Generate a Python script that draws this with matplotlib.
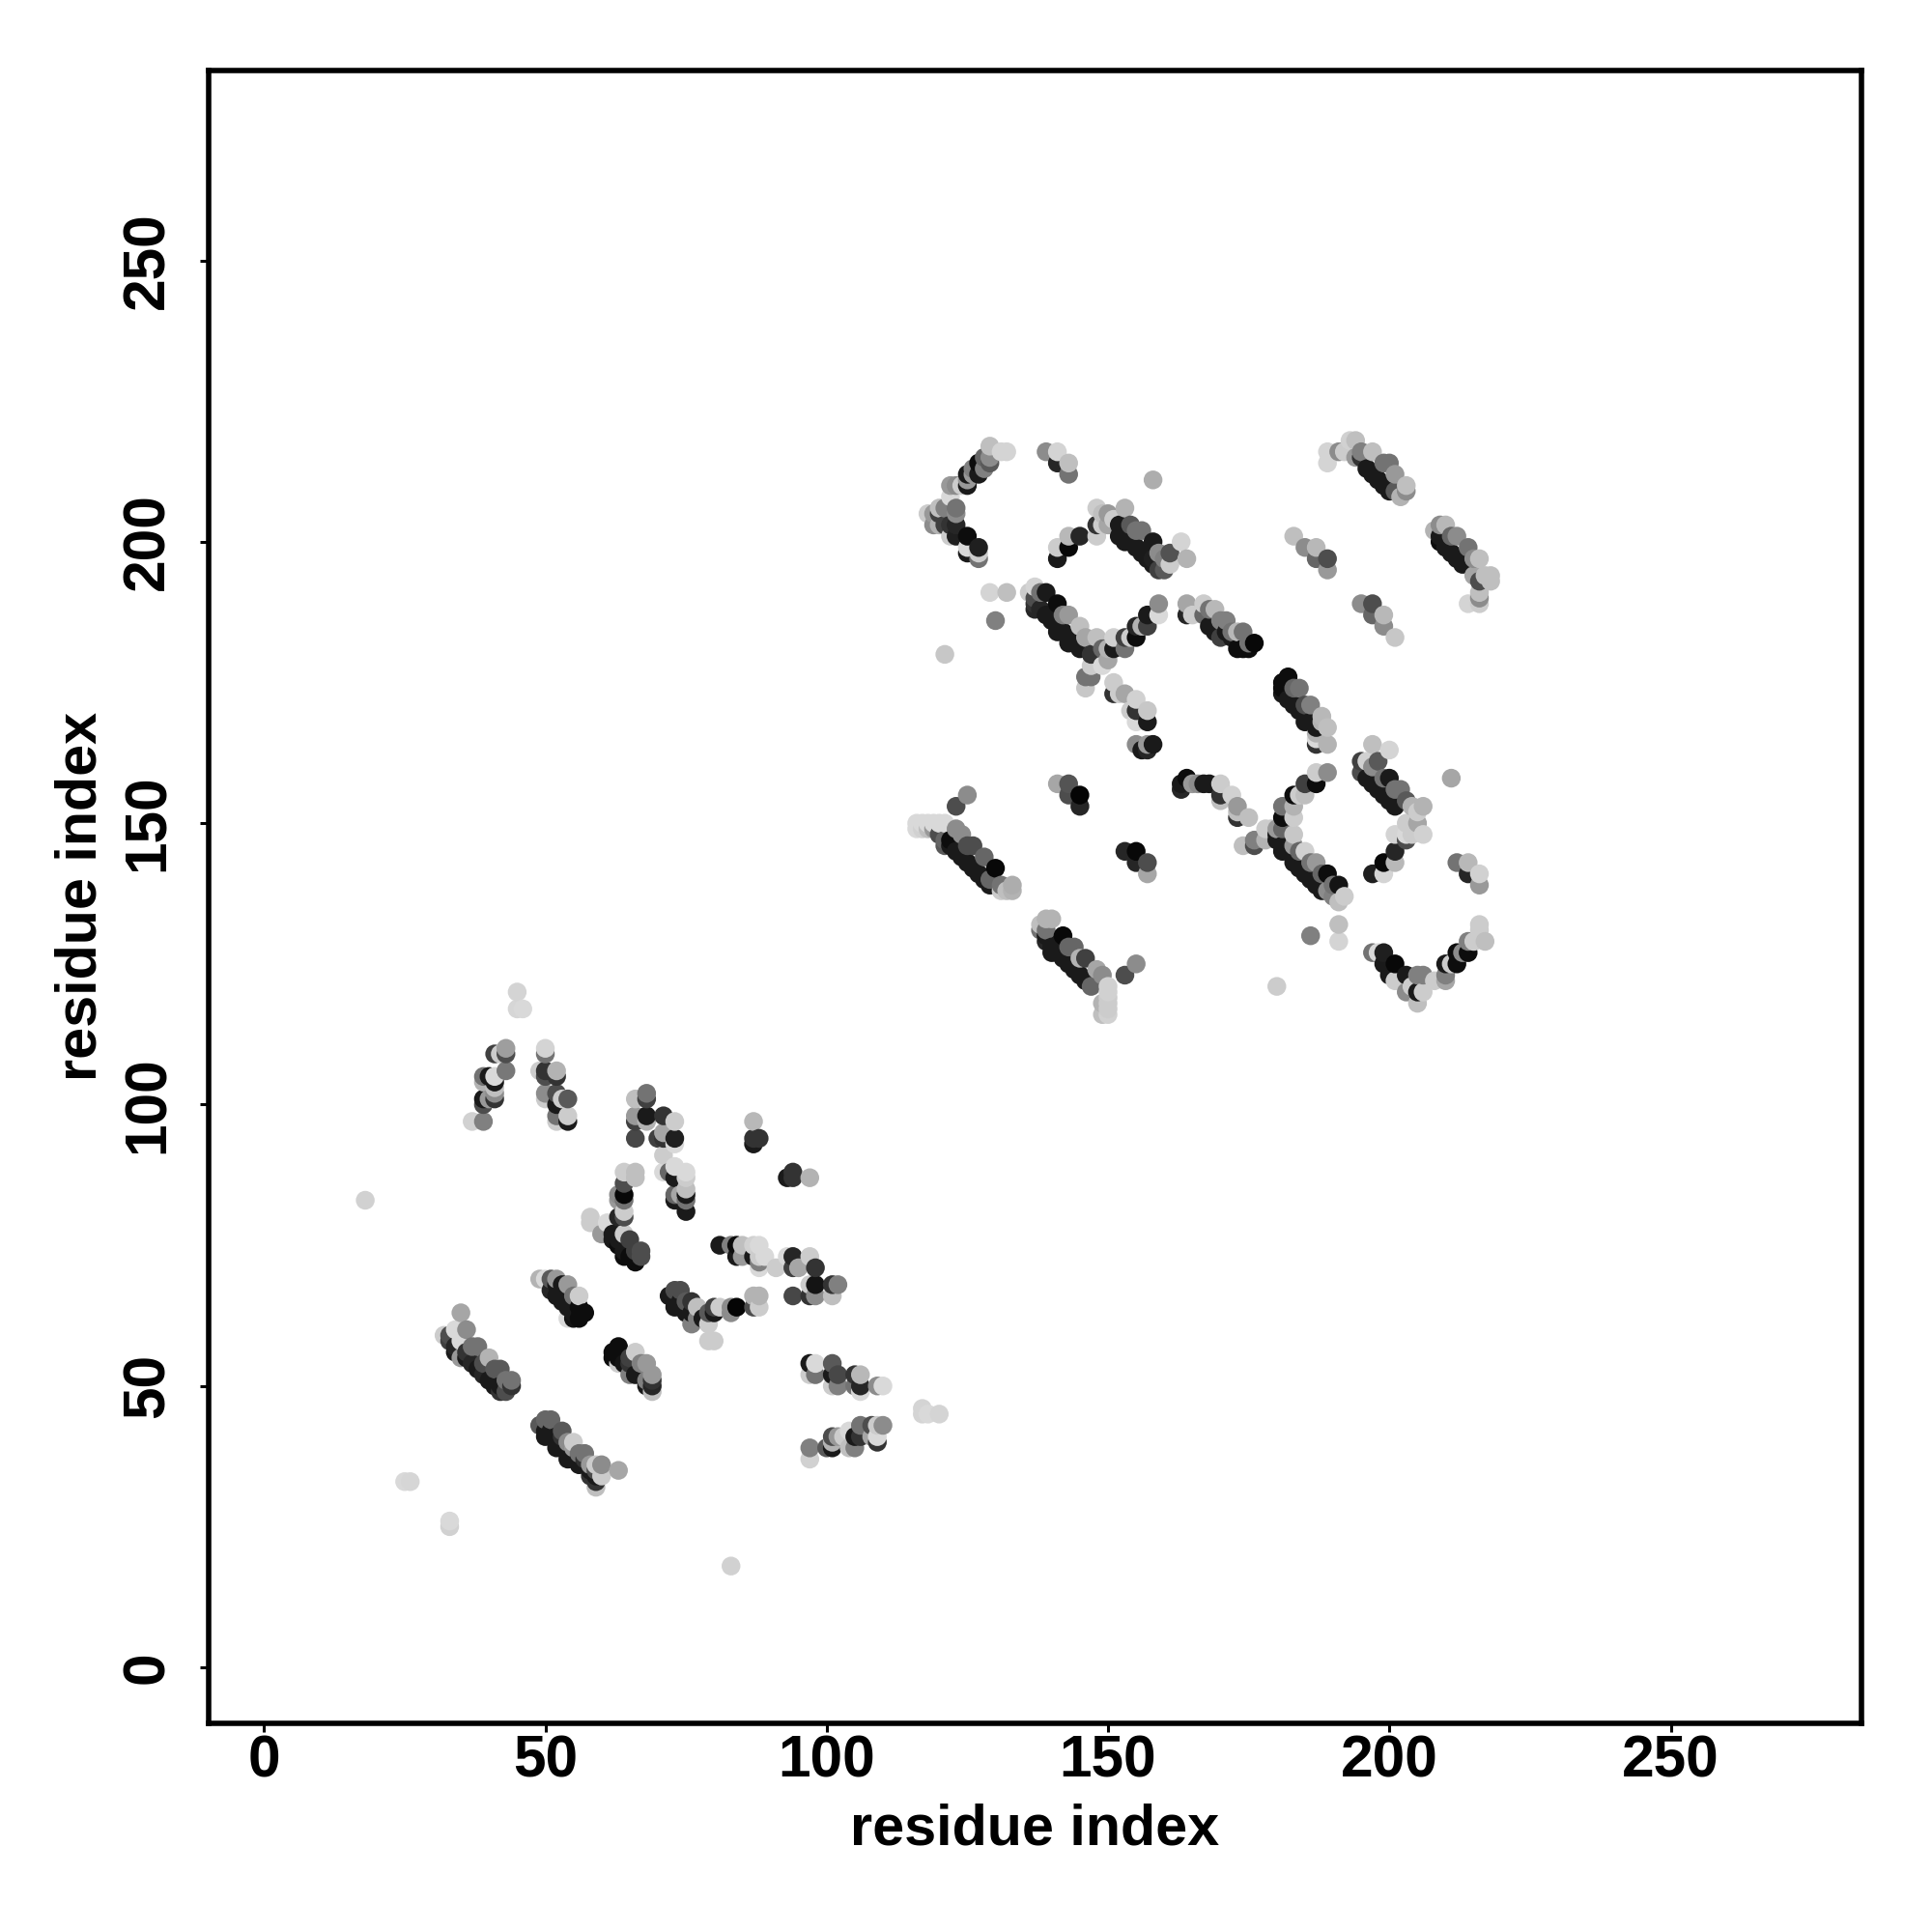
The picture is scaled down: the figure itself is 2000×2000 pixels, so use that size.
import numpy as np
import matplotlib
matplotlib.use('Agg')
import matplotlib.pyplot as plt

plt.rcParams['font.family'] = ['Liberation Sans', 'DejaVu Sans']
plt.rcParams['font.weight'] = 'bold'

# (residue i, residue j, grey level), one list per contact patch
arch_left = [(18,83,.82),(45,120,.83),(45,117,.84),(46,117,.85),(43,110,.62),(43,109,.3),(42,109,.8),(41,109,.25),
    (43,106,.47),(41,105,.85),(41,104,.1),(40,105,.1),(39,105,.45),(39,104,.7),(41,103,.75),(41,102,.55),(41,101,.2),
    (39,101,.1),(40,101,.6),(39,100,.3),(39,97,.5),(37,97,.82)]
arch_right = [(50,110,.83),(50,109,.45),(49,106,.8),(50,106,.2),(50,105,.3),(52,106,.7),(52,105,.2),(50,102,.55),
    (50,101,.8),(52,102,.3),(52,100,.1),(53,101,.8),(54,101,.35),(52,98,.45),(52,97,.8),(54,98,.8),(54,97,.1)]
patch_66 = [(66,101,.75),(68,102,.45),(68,101,.25),(66,98,.6),(66,97,.25),(68,98,.1),(68,97,.7),(66,94,.28),(71,98,.2),
    (73,97,.8),(71,95,.65),(71,94,.2),(70,94,.25),(73,94,.12),(73,93,.85),(71,91,.8),(71,88,.85),(73,89,.85),(72,88,.4),
    (73,87,.1),(75,88,.85),(75,87,.8),(73,84,.4),(73,83,.1),(75,85,.75),(75,84,.1),(75,83,.45),(74,84,.65),(75,81,.1)]
patch_87 = [(87,97,.72),(87,94,.2),(88,94,.2),(87,93,.1),(93,87,.1),(94,88,.2),(94,87,.2),(97,87,.7)]
row_75 = [(81,75,.1),(83,75,.5),(84,75,.05),(85,75,.75),(87,75,.82),(88,75,.85),(84,73,.1),(85,73,.6),(87,73,.1),
    (88,73,.8),(89,73,.85),(88,72,.5),(88,71,.85),(91,71,.8),(93,73,.85),(94,73,.15),(97,73,.8),(94,71,.25),(95,71,.65),
    (98,71,.2),(97,68,.8),(98,68,.08),(101,68,.2),(102,68,.5),(94,66,.28),(97,66,.2),(98,66,.55),(101,66,.75)]
row_65 = [(72,66,.1),(73,67,.3),(74,67,.3),(73,65,.1),(74,65,.1),(73,64,.1),(74,64,.1),(75,65,.35),(76,65,.2),(75,63,.1),(76,63,.1),
    (77,64,.75),(76,61,.5),(77,62,.5),(78,62,.1),(79,63,.35),(79,61,.8),(80,64,.25),(80,63,.1),(81,64,.8),(79,58,.8),(80,58,.8),
    (83,64,.55),(83,63,.55),(84,64,.02),(87,66,.7),(88,66,.7),(87,64,.3),(88,64,.8)]
band_33 = [(35,63,.65),(32,59,.8),(33,59,.3),(34,60,.85),(36,60,.55),(35,58,.85),(33,58,.25),(34,57,.15),(34,56,.1),(37,57,.45),
    (38,57,.45),(36,56,.2),(35,55,.6),(36,55,.1),(40,55,.7),(37,54,.15),(39,54,.3),(38,53,.1),(41,53,.35),(42,53,.35),(39,52,.15),
    (40,51,.1),(43,51,.45),(44,51,.45),(41,50,.1),(42,50,.1),(42,49,.2),(43,49,.3),(44,50,.2)]
band_50 = [(49,43,.35),(50,44,.4),(51,44,.4),(50,42,.1),(50,41,.1),(51,42,.1),(51,41,.1),(52,41,.1),(53,41,.2),(53,42,.35),(52,40,.1),(53,40,.1),(54,40,.55),(55,40,.8),
    (52,39,.1),(53,39,.1),(54,39,.1),(55,39,.6),(54,38,.1),(54,37,.1),(55,38,.1),(56,38,.45),(57,38,.45),(55,37,.1),(56,37,.1),(57,37,.2),(56,36,.1),(57,36,.1),(58,35,.1),(58,36,.6),(59,36,.8),(60,36,.55),
    (63,35,.65),(59,35,.3),(60,34,.8),(58,34,.2),(59,34,.1),(59,33,.2),(59,32,.75),(25,33,.85),(26,33,.84),(33,26,.85),(33,25,.82)]
band_49 = [(49,69,.7),(50,69,.85),(51,69,.35),(52,69,.6),(51,67,.15),(52,68,.1),(53,68,.1),(54,68,.6),(55,66,.45),(56,66,.8),(52,66,.1),
    (53,65,.1),(54,64,.1),(55,64,.1),(56,64,.05),(57,63,.05),(55,62,.08),(56,62,.05),(54,62,.85),(55,63,.1)]
band_63 = [(62,56,.05),(63,57,.05),(62,55,.05),(63,55,.05),(64,54,.08),(65,55,.25),(66,56,.8),(67,54,.5),(68,54,.6),(69,52,.6),(69,51,.2),(69,50,.15),
    (69,49,.75),(65,54,.2),(63,54,.8),(66,52,.1),(67,52,.1),(65,52,.5),(68,50,.1),(68,51,.5)]
patch_64 = [(64,88,.8),(66,88,.75),(66,87,.75),(64,86,.3),(63,84,.55),(63,83,.6),(64,84,.03),(64,83,.45),(64,81,.8),(63,80,.15),(64,80,.3),
    (61,79,.85),(60,77,.6),(62,77,.1),(64,77,.8),(65,76,.25),(63,75,.05),(63,76,.1),(64,74,.1),(66,74,.25),(67,74,.3),(64,73,.05),(66,72,.05),(67,73,.3),
    (65,73,.05),(62,76,.1),(58,79,.8),(58,80,.8),(61,77,.6)]
row_52 = [(97,54,.1),(98,54,.85),(97,52,.8),(98,52,.45),(101,54,.35),(102,52,.28),(101,52,.1),(101,50,.8),(102,50,.5),(105,52,.2),(106,52,.72),
    (105,50,.45),(106,50,.15),(106,49,.85),(109,50,.55),(110,50,.85)]
row_41 = [(97,39,.5),(97,37,.82),(100,39,.35),(101,39,.1),(101,41,.3),(102,41,.6),(101,40,.7),(103,41,.8),(104,42,.85),(105,39,.5),(104,39,.75),
    (105,41,.1),(106,43,.45),(106,41,.2),(108,43,.3),(108,41,.65),(109,43,.8),(110,43,.55),(109,40,.2),(109,41,.85),(117,46,.83),(117,45,.83),(118,45,.85),(120,45,.83),(83,18,.82)]

hook_125 = [(129,217,.75),(131,216,.83),(132,216,.83),(129,215,.55),(129,214,.35),(128,215,.4),(127,214,.05),(128,213,.5),(126,213,.5),(127,212,.1),
    (125,212,.1),(126,212,.6),(125,210,.1),(125,211,.6),(124,210,.8),(123,210,.55),(122,210,.6),(122,208,.85),(123,206,.45),(123,205,.55),(121,206,.5),
    (120,206,.75),(118,205,.8),(119,205,.6),(120,205,.25),(119,203,.55),(120,203,.7),(121,203,.25),(122,203,.2),(123,203,.15),(122,201,.8),(123,201,.12),
    (125,201,.05),(125,199,.85),(125,198,.1),(127,199,.12),(127,198,.8),(127,197,.45)]
patch_139 = [(139,216,.55),(141,216,.83),(143,214,.75),(141,214,.15),(143,212,.45),(158,211,.68),(141,199,.8),(143,201,.72),(145,201,.15),(143,199,.03),(141,197,.1)]
band_148 = [(148,206,.8),(150,205,.6),(149,205,.75),(153,206,.7),(148,203,.2),(149,203,.8),(150,203,.65),(151,204,.8),(148,201,.8),(152,203,.1),
    (153,202,.1),(154,203,.35),(152,201,.1),(155,202,.45),(156,202,.45),(153,200,.1),(154,200,.1),(155,199,.1),(156,198,.1),(158,200,.1),(159,198,.55),(157,197,.1),
    (161,198,.32),(161,196,.8),(163,200,.83),(164,197,.7),(159,195,.25),(160,195,.35),(158,197,.12),(158,196,.1),(160,197,.5)]
band_137 = [(129,191,.83),(132,191,.75),(130,186,.5),(121,180,.78),(137,192,.83),(136,191,.8),(138,191,.45),(139,191,.1),(137,190,.3),(137,189,.2),(137,188,.15),
    (138,188,.15),(141,189,.05),(139,187,.1),(140,186,.1),(143,187,.6),(142,187,.5),(141,185,.1),(145,185,.75),(141,184,.1),(142,184,.1),(143,183,.1),(146,183,.65),(148,183,.75),
    (143,182,.1),(144,182,.1),(145,181,.1),(147,180,.2),(149,181,.4),(151,183,.82),(150,181,.7),(151,181,.1),(153,183,.25),(154,183,.8),(155,185,.15),(157,185,.25),
    (155,183,.05),(156,185,.7),(157,187,.1),(159,189,.55),(159,187,.85),(153,181,.45),(150,179,.65),(149,178,.85),(147,178,.8),(146,176,.45),(147,176,.45),(146,174,.78)]
patch_151 = [(151,175,.8),(151,173,.2),(153,173,.65),(152,173,.8),(155,172,.82),(154,170,.8),(155,170,.2),(157,170,.78),(157,168,.1),(155,168,.85),
    (157,164,.6),(158,164,.1),(156,163,.1),(157,163,.15),(155,164,.55)]
band_164 = [(164,189,.65),(164,187,.15),(165,187,.8),(167,189,.8),(167,187,.4),(168,188,.45),(168,185,.1),(169,188,.72),(170,186,.5),(171,186,.5),(170,183,.25),
    (169,184,.1),(171,184,.1),(172,183,.1),(173,184,.72),(174,184,.45),(172,184,.45),(173,181,.05),(174,181,.05),(175,181,.05),(176,182,.03),(175,182,.45)]
band_top = [(189,216,.83),(189,214,.83),(191,216,.55),(192,216,.8),(193,218,.82),(194,218,.75),(194,215,.6),(195,216,.5),(197,216,.75),(196,213,.1),
    (195,215,.2),(199,214,.45),(200,214,.45),(197,212,.1),(198,211,.1),(201,212,.6),(199,210,.1),(200,209,.1),(203,210,.75),(203,209,.55),(202,208,.7),(201,209,.35)]
patch_183 = [(183,201,.75),(185,199,.55),(187,199,.72),(187,197,.4),(189,197,.3),(189,195,.6),(195,189,.55),(197,189,.3),(197,187,.4),(199,187,.72),(199,185,.55),(201,183,.78)]
band_209 = [(208,202,.7),(209,203,.55),(210,203,.72),(209,201,.1),(209,200,.05),(210,199,.1),(211,201,.4),(212,201,.55),(211,198,.1),(212,197,.1),(214,199,.45),(213,196,.1),
    (215,197,.55),(216,197,.75),(215,194,.65),(216,193,.3),(217,194,.75),(218,194,.75),(218,193,.75),(216,191,.75),(216,190,.55),(214,189,.83),(216,189,.8)]
band_181 = [(182,176,.05),(181,175,.05),(181,174,.05),(181,173,.1),(182,172,.1),(184,174,.45),(183,174,.4),(186,171,.5),(185,171,.3),(183,171,.1),(184,170,.1),
    (188,169,.72),(189,167,.75),(185,168,.1),(186,168,.1),(187,167,.1),(188,168,.7),(187,166,.7),(187,164,.2),(189,164,.7),(187,165,.85)]
patch_125 = [(125,155,.55),(123,153,.3),(141,157,.65),(143,157,.33),(143,155,.3),(145,155,.02),(145,153,.15),(153,145,.15),(155,145,.03),(155,143,.15),(157,143,.3),(157,141,.65),
    (163,157,.1),(164,158,.05),(163,156,.15),(165,157,.6),(167,157,.1),(166,157,.55),(168,157,.1),(170,157,.8),(172,155,.82),(170,155,.2),(170,154,.75),(173,153,.6),(173,151,.2),(173,152,.75),(175,151,.75)]
band_116 = [(116,150,.85),(117,150,.85),(118,150,.85),(119,150,.85),(120,150,.85),(121,150,.85),(116,149,.85),(117,149,.82),(118,149,.75),(119,149,.6),(120,148,.3),
    (121,147,.4),(123,149,.55),(124,148,.55),(121,146,.35),(122,146,.1),(122,147,.05),(123,145,.1),(124,144,.1),(125,146,.3),(126,146,.3),(125,143,.1),(126,142,.1),(128,144,.4),
    (127,141,.1),(128,140,.1),(130,142,.03),(129,139,.1),(129,140,.4),(131,139,.45),(132,138,.75),(133,139,.68),(133,138,.7),(131,138,.8)]
band_138 = [(138,132,.75),(139,133,.7),(140,133,.7),(138,131,.45),(139,131,.45),(139,129,.15),(139,130,.1),(140,128,.1),(142,130,.03),(140,127,.1),(141,127,.1),(143,128,.4),(144,128,.4),(142,126,.1),
    (143,125,.1),(144,124,.1),(146,126,.25),(145,126,.7),(145,123,.1),(148,124,.65),(149,123,.55),(147,121,.4),(146,122,.1),(150,121,.82),(150,120,.82),(150,119,.8),(150,118,.8),(150,117,.8),
    (150,116,.82),(149,118,.7),(149,116,.75),(153,123,.3),(155,125,.55)]
band_181b = [(187,159,.8),(189,159,.55),(187,157,.05),(185,157,.25),(185,155,.75),(183,155,.05),(184,155,.8),(183,153,.7),(183,151,.8),(181,153,.45),(181,151,.05),(179,149,.8),(178,149,.8),
    (180,149,.6),(178,147,.7),(176,147,.5),(176,146,.3),(174,146,.75),(183,148,.78),(181,149,.4),(180,148,.1),(180,147,.1),(181,146,.1),(181,145,.1),(182,145,.1),(185,145,.82),(183,146,.6),(184,145,.4),(187,143,.6),(186,143,.45),
    (183,143,.1),(184,142,.1),(185,141,.1),(189,141,.05),(186,140,.1),(187,139,.1),(188,141,.4),(191,139,.08),(190,139,.45),(188,138,.1),(192,137,.8),(191,136,.75),(190,137,.5),(189,138,.55),
    (191,132,.75),(191,129,.83),(186,130,.5),(180,121,.8)]
band_195 = [(195,161,.25),(195,159,.3),(196,161,.82),(197,164,.75),(200,163,.83),(198,161,.35),(197,160,.55),(196,158,.1),(197,157,.1),(200,158,.1),(199,158,.45),(198,156,.1),(199,155,.1),(200,154,.1),
    (201,156,.45),(202,156,.45),(201,153,.1),(203,154,.35),(204,153,.7),(206,153,.7),(205,152,.8),(203,150,.8),(205,150,.65),(203,148,.85),(203,147,.3),(201,148,.83),(204,148,.8),(206,148,.82),
    (201,145,.15),(201,143,.72),(199,143,.03),(199,141,.83),(197,141,.12),(211,158,.65),(212,143,.45),(214,143,.72),(214,141,.15),(216,141,.82),(216,139,.6)]
vee_205 = [(197,127,.45),(198,127,.85),(199,127,.12),(199,125,.1),(200,123,.1),(201,125,.03),(201,122,.8),(203,123,.1),(203,120,.55),(204,121,.8),(205,123,.5),(206,123,.5),(205,120,.1),
    (206,120,.8),(205,118,.75),(208,122,.8),(210,122,.65),(210,123,.5),(210,125,.1),(211,125,.8),(212,125,.05),(212,127,.05),(213,127,.55),(214,127,.05),(214,129,.5),(215,129,.8),
    (216,132,.8),(216,131,.8),(217,129,.75)]

patches = [arch_left, arch_right, patch_66, patch_87, row_75, row_65, band_33, band_50, band_49, band_63, patch_64, row_52, row_41,
    hook_125, patch_139, band_148, band_137, patch_151, band_164, band_top, patch_183, band_209, band_181, patch_125, band_116, band_138,
    band_181b, band_195, vee_205]

ticks = [0, 50, 100, 150, 200, 250]

pts = np.array([p for patch in patches for p in patch])
# later residues sit on top of earlier ones, higher j on top of lower j
order = np.lexsort((pts[:, 1], pts[:, 0]))
pts = pts[order]
x, y, grey = pts[:, 0], pts[:, 1], pts[:, 2]

fig = plt.figure(figsize=(10, 10), dpi=200)
ax = fig.add_axes([216/2000, 1-1783.7/2000, (1927-216)/2000, (1783.7-72.7)/2000])
ax.scatter(x, y, s=49, c=[str(g) for g in grey], linewidths=0, zorder=3)

ax.set_xlim(-9.83, 283.9)
ax.set_ylim(-9.9, 283.8)
ax.set_xticks(ticks)
ax.set_yticks(ticks)
ax.tick_params(length=3.4, width=1.1, labelsize=21.8)
ax.tick_params(axis='x', pad=1)
ax.tick_params(axis='y', pad=8.7)
plt.setp(ax.get_yticklabels(), rotation=90, va='center')
for s in ax.spines.values():
    s.set_linewidth(2.0)

ax.set_xlabel('residue index', fontsize=21.4, fontweight='bold', labelpad=5)
ax.set_ylabel('residue index', fontsize=21.4, fontweight='bold', labelpad=5)

fig.savefig('out.png', dpi=200)
